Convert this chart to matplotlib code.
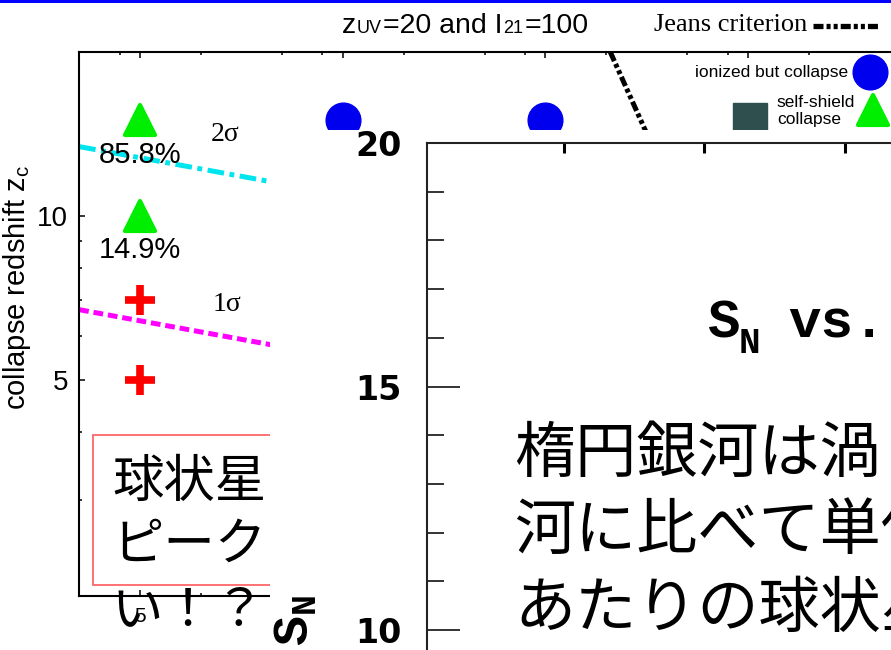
import matplotlib
matplotlib.use("Agg")
import matplotlib.pyplot as plt
from matplotlib.patches import Rectangle
from matplotlib.lines import Line2D
from matplotlib.markers import MarkerStyle
from matplotlib.ticker import FixedLocator, FixedFormatter, NullFormatter

plt.rcParams['font.family'] = ['Liberation Sans', 'Noto Sans CJK JP', 'DejaVu Sans']
plt.rcParams['lines.scale_dashes'] = False

# ---------------- data ----------------
tri_x = [5, 5]
tri_y = [15, 10]
tri_labels = ["85.8%", "14.9%"]
circ_x = [6, 7]
circ_y = [15, 15]
plus_x = [5, 5]
plus_y = [7, 5]
sig2_x = [4.70, 8.75]
sig2_y = [13.4, 7.09]
sig1_x = [4.70, 8.75]
sig1_y = [6.72, 3.56]
jeans_x = [7.32, 8.52]
jeans_y = [20, 2]
x_major = [5, 6, 7, 8]
x_major_labels = ["5", "", "", ""]
x_minor = [4.9, 5.3, 5.7, 5.9, 6.3, 6.7, 6.9, 7.3, 7.7, 7.9, 8.3]
y_major = [5, 10]
y_major_labels = ["5", "10"]
y_minor = [3, 4, 6, 7, 8, 9]
sn_major = [10, 15, 20]
sn_major_labels = ["10", "15", "20"]
sn_minor = [11, 12, 13, 14, 16, 17, 18, 19]
sn_xticks = [1, 2, 3]
left_jp = ["球状星", "ピーク", "い！？"]
right_jp = ["楕円銀河は渦", "河に比べて単位", "あたりの球状星"]

W, H = 891, 650
fig = plt.figure(figsize=(W / 100, H / 100), dpi=100)
fig.patch.set_facecolor("white")


def fbox(l, t, r, b):
    return [l / W, 1 - b / H, (r - l) / W, (b - t) / H]


def fx(px):
    return px / W


def fy(py):
    return 1 - py / H


BLUE = "#0000ee"
GREEN = "#00ee00"
RED = "#ff0000"

# ---------------- left chart ----------------
ax1 = fig.add_axes(fbox(79, 52, 900, 596))
ax1.set_zorder(0)
ax1.set_yscale("log")
ax1.set_xlim(4.6991, 8.7494)
ax1.set_ylim(2, 20)
for s in ax1.spines.values():
    s.set_linewidth(1.5)
    s.set_color("black")
ax1.xaxis.set_major_locator(FixedLocator(x_major))
ax1.xaxis.set_major_formatter(FixedFormatter(x_major_labels))
ax1.xaxis.set_minor_locator(FixedLocator(x_minor))
ax1.xaxis.set_minor_formatter(NullFormatter())
ax1.yaxis.set_major_locator(FixedLocator(y_major))
ax1.yaxis.set_major_formatter(FixedFormatter(y_major_labels))
ax1.yaxis.set_minor_locator(FixedLocator(y_minor))
ax1.yaxis.set_minor_formatter(NullFormatter())
ax1.tick_params(which="both", direction="in", top=True, right=True, width=1.1, color="black")
ax1.tick_params(which="major", length=4.5)
ax1.tick_params(which="minor", length=2.5)
ax1.tick_params(axis="y", labelsize=20, pad=8)
ax1.tick_params(axis="x", labelsize=15, pad=8)

ax1.plot(sig2_x, sig2_y, color="#00e5ee", lw=3.6, dashes=(12, 4, 3.5, 4), zorder=2)
ax1.plot(sig1_x, sig1_y, color="#ff00ff", lw=3.6, dashes=(7, 3.5), zorder=2)
ax1.plot(jeans_x, jeans_y, color="black", lw=3.6,
         dashes=(7.2, 2.2, 2.9, 2.2, 2.9, 2.2), zorder=2)

tri_marker = MarkerStyle("^", joinstyle="round")
ax1.plot(tri_x, tri_y, ls="none", marker=tri_marker, ms=22, color=GREEN,
         mec=GREEN, mew=3, zorder=3)
ax1.plot(circ_x, circ_y, ls="none", marker="o", ms=25, color=BLUE, mec=BLUE,
         mew=1, zorder=3)
ax1.plot(plus_x, plus_y, ls="none", marker="+", ms=22, color=RED, mew=5.5, zorder=3)

for x, y, lab in zip(tri_x, tri_y, tri_labels):
    ax1.annotate(lab, (x, y), xytext=(0, -25), textcoords="offset points",
                 ha="center", va="center", fontsize=21, color="black")

ax1.text(5.42, 14.08, "2σ", family="Liberation Serif", fontsize=20,
         ha="center", va="center")
ax1.text(5.43, 6.87, "1σ", family="Liberation Serif", fontsize=20,
         ha="center", va="center")

# legend keys (axes fraction)
ax1.plot([0.9635], [0.963], transform=ax1.transAxes, marker="o", ms=25,
         color=BLUE, mec=BLUE, clip_on=False, zorder=4)
ax1.plot([0.967], [0.893], transform=ax1.transAxes, marker=tri_marker, ms=22,
         color=GREEN, mec=GREEN, mew=3, clip_on=False, zorder=4)
ax1.plot([0.817], [0.875], transform=ax1.transAxes, marker="s", ms=24,
         color="#2f4f4f", clip_on=False, zorder=4)
ax1.text(0.9367, 0.963, "ionized but collapse", transform=ax1.transAxes,
         fontsize=12.5, ha="right", va="center")
ax1.text(0.850, 0.8915, "self-shield\ncollapse", transform=ax1.transAxes,
         fontsize=12.5, ha="left", va="center")

# red box + left Japanese text (belongs to the back slide layer)
box = Rectangle((fx(93), fy(585)), (400 - 93) / W, (585 - 435) / H,
                transform=fig.transFigure, fill=False, ec="#ff5a5a", lw=1.2)
ax1.add_patch(box)
box.set_clip_on(False)
for line, yc in zip(left_jp, [482, 545, 610]):
    ax1.text(fx(112), fy(yc), line, transform=fig.transFigure, fontsize=37,
             family="Noto Sans CJK JP", ha="left", va="center")

fig.text(fx(17), fy(287), r"collapse redshift z$_\mathregular{c}$", rotation=90,
         fontsize=21, ha="center", va="center")

# ---------------- overlay image ----------------
fig.add_artist(Rectangle((fx(270), 0), (W - 270) / W, (H - 130) / H,
                         transform=fig.transFigure, fc="white", ec="none", zorder=1))

ax2 = fig.add_axes(fbox(427, 143, 960, 700))
ax2.set_zorder(2)
ax2.patch.set_visible(False)
ax2.set_xlim(0.025, 3.8185)
ax2.set_ylim(8.563, 20)
ax2.spines["right"].set_visible(False)
ax2.spines["bottom"].set_visible(False)
for k in ("left", "top"):
    ax2.spines[k].set_linewidth(1.5)
    ax2.spines[k].set_color("#222222")
ax2.yaxis.set_major_locator(FixedLocator(sn_major))
ax2.yaxis.set_major_formatter(FixedFormatter(sn_major_labels))
ax2.yaxis.set_minor_locator(FixedLocator(sn_minor))
ax2.yaxis.set_minor_formatter(NullFormatter())
ax2.xaxis.set_major_locator(FixedLocator(sn_xticks))
ax2.xaxis.set_minor_locator(FixedLocator([]))
ax2.tick_params(axis="y", which="both", direction="in", left=True, right=False,
                width=1.4, color="#333333")
ax2.tick_params(axis="y", which="major", length=24, labelsize=24, pad=18)
ax2.tick_params(axis="y", which="minor", length=12)
ax2.tick_params(axis="x", which="both", direction="in", top=True, bottom=False,
                labeltop=False, labelbottom=False, length=7, width=2.2, color="black")
for lab in ax2.get_yticklabels():
    lab.set_family("DejaVu Sans")
    lab.set_fontweight("bold")
    lab.set_va("center_baseline")

fig.text(fx(708), fy(338), "S", family="Liberation Mono", weight="bold",
         fontsize=39, ha="left", va="baseline", zorder=4)
fig.text(fx(739), fy(353), "N", family="Liberation Mono", weight="bold",
         fontsize=26, ha="left", va="baseline", zorder=4)
fig.text(fx(788), fy(338), "vs.", family="Liberation Mono", weight="bold",
         fontsize=39, ha="left", va="baseline", zorder=4)
fig.text(fx(296), fy(620), r"S$_\mathregular{N}$", family="Liberation Mono",
         weight="bold", fontsize=36, rotation=90, ha="center", va="center", zorder=4)

for line, yc in zip(right_jp, [455, 532, 610]):
    fig.text(fx(514), fy(yc), line, fontsize=44, family="Noto Sans CJK JP",
             ha="left", va="center", zorder=4)

# ---------------- title and Jeans legend ----------------
renderer = fig.canvas.get_renderer()
x_cur = 342
for s, size in [("z", 20.5), ("UV", 13), ("=20 and I", 20.5), ("21", 13), ("=100", 20.5)]:
    t = fig.text(fx(x_cur), fy(33), s, fontsize=size, ha="left", va="baseline", zorder=4)
    bb = t.get_window_extent(renderer)
    x_cur += bb.width + 1

fig.text(fx(807), fy(25), "Jeans criterion", family="Liberation Serif", fontsize=19,
         ha="right", va="center", zorder=4)
fig.add_artist(Line2D([fx(813), fx(880)], [fy(26), fy(26)], transform=fig.transFigure,
                      color="black", lw=3.8, dashes=(7.2, 2.2, 2.9, 2.2, 2.9, 2.2),
                      zorder=4))

fig.add_artist(Rectangle((0, fy(3)), 1, 3 / H, transform=fig.transFigure,
                         fc="#0000ff", ec="none", zorder=6))

fig.savefig("out.png", dpi=100)
